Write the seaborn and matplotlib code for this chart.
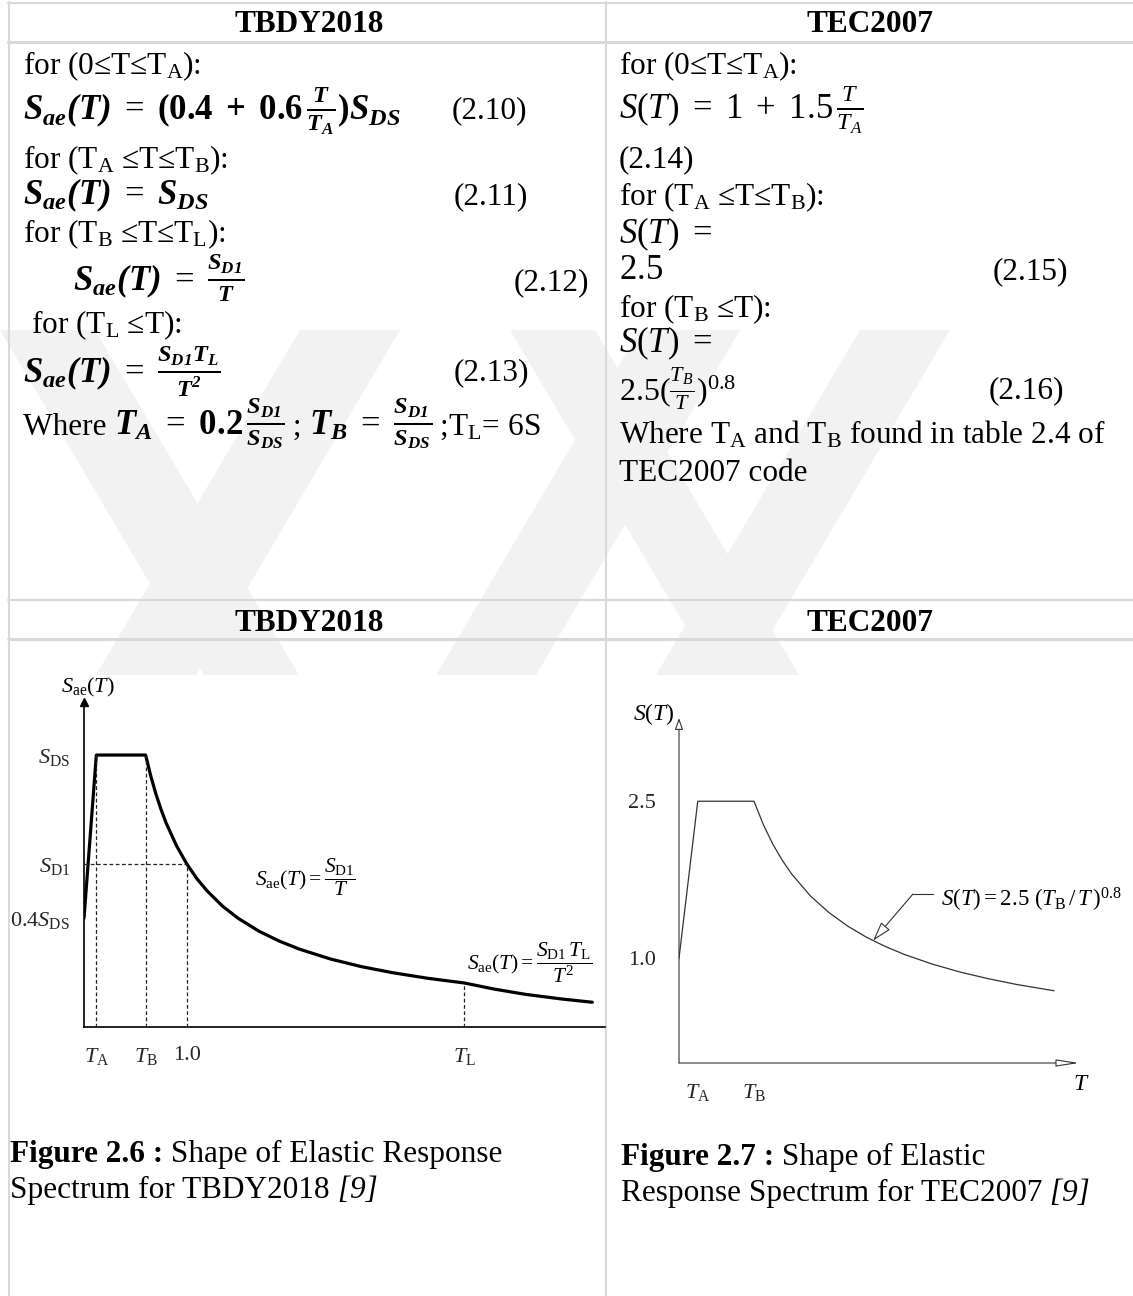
import matplotlib
matplotlib.use('Agg')
import matplotlib.pyplot as plt
from matplotlib.patches import Polygon
import seaborn as sns
import pandas as pd

# TBDY2018 spectrum (S_DS = 1)
tbdy_T = [0.0, 0.12, 0.6, 0.65, 0.7, 0.75, 0.8, 0.9, 1.0, 1.1, 1.2, 1.35, 1.5, 1.7,
          1.9, 2.1, 2.4, 2.7, 3.0, 3.35, 3.7, 4.0, 4.3, 4.65, 4.95]
tbdy_S = [0.4, 1.0, 1.0, 0.923, 0.857, 0.8, 0.75, 0.667, 0.6, 0.545, 0.5, 0.444, 0.4, 0.353,
          0.316, 0.286, 0.25, 0.222, 0.2, 0.179, 0.162, 0.139, 0.12, 0.103, 0.091]
tbdy_xticks = [0.12, 0.6, 1.0, 3.7]
tbdy_xlabels = [r'$T_{\mathrm{A}}$', r'$T_{\mathrm{B}}$', '1.0', r'$T_{\mathrm{L}}$']
tbdy_guide_top = [1.0, 1.0, 0.6, 0.162]
tbdy_yticks = [0.4, 0.6, 1.0]
tbdy_ylabels = [r'$0.4S_{\mathrm{DS}}$', r'$S_{\mathrm{D1}}$', r'$S_{\mathrm{DS}}$']

# TEC2007 spectrum
tec_T = [0.0, 0.1, 0.4, 0.45, 0.5, 0.55, 0.6, 0.7, 0.8, 0.9, 1.0, 1.1, 1.2, 1.35,
         1.5, 1.65, 1.8, 2.0]
tec_S = [1.0, 2.5, 2.5, 2.275, 2.091, 1.938, 1.807, 1.597, 1.436, 1.307, 1.201, 1.113,
         1.038, 0.945, 0.868, 0.805, 0.750, 0.690]
tec_xticks = [0.1, 0.4]
tec_xlabels = [r'$T_{\mathrm{A}}$', r'$T_{\mathrm{B}}$']
tec_yticks = [1.0, 2.5]
tec_ylabels = ['1.0', '2.5']
tec_note_T, tec_note_S = 1.035, 1.169

sns.set_style('white')
plt.rcParams['font.family'] = ['Liberation Serif', 'DejaVu Serif']
plt.rcParams['mathtext.fontset'] = 'custom'
plt.rcParams['mathtext.rm'] = 'Liberation Serif'
plt.rcParams['mathtext.it'] = 'Liberation Serif:italic'
plt.rcParams['mathtext.bf'] = 'Liberation Serif:bold'
plt.rcParams['mathtext.bfit'] = 'Liberation Serif:bold:italic'

W, H = 1133, 1296
fig = plt.figure(figsize=(W / 100, H / 100), dpi=100)
fig.patch.set_facecolor('white')
renderer = fig.canvas.get_renderer()

# background layer: watermark + table grid (pixel coords)
bg = fig.add_axes([0, 0, 1, 1], zorder=0)
bg.set_xlim(0, W)
bg.set_ylim(H, 0)
bg.axis('off')

wm = '#f2f2f2'
y_top, y_bot, shift = 330, 675, 204
bands = [(0, 95, 1), (300, 400, -1), (640, 740, -1), (510, 595, 1), (860, 950, -1)]
for x0, x1, d in bands:
    bg.add_patch(Polygon([(x0, y_top), (x1, y_top), (x1 + d * shift, y_bot),
                          (x0 + d * shift, y_bot)], closed=True, fc=wm, ec='none'))

grid = '#d9d9d9'
bg.plot([8, W], [2.5, 2.5], color=grid, lw=1.5)
bg.plot([8, W], [41.5, 41.5], color=grid, lw=2.2)
bg.plot([8, W], [599.5, 599.5], color=grid, lw=1.5)
bg.plot([8, W], [638.5, 638.5], color=grid, lw=2.2)
bg.plot([8.5, 8.5], [2, H], color=grid, lw=1.5)
bg.plot([606, 606], [2, H], color=grid, lw=1.5)


def put(x, y, s, size=22.5, **kw):
    kw.setdefault('va', 'baseline')
    return fig.text(x / W, 1 - y / H, s, fontsize=size, color='black', **kw)


def put_runs(x, y, runs):
    # runs: (text, size, extra kwargs) placed one after another
    for s, size, kw in runs:
        t = put(x, y, s, size=size, **kw)
        x += t.get_window_extent(renderer).width


EQ = 25

# headers
for y in (32, 631):
    put(309, y, 'TBDY2018', weight='bold', ha='center')
    put(870, y, 'TEC2007', weight='bold', ha='center')

# left column text
put(23, 74, 'for (0≤T≤T$_{\\mathrm{A}}$):')
put(23, 121, r'$\mathbfit{S_{ae}(T)}\ =\ \mathbf{(0.4\ +\ 0.6}\,\frac{\mathbfit{T}}{\mathbfit{T_A}}'
             r'\mathbf{)}\mathbfit{S_{DS}}$', size=EQ)
put(452, 118, '(2.10)')
put(23, 168, 'for (T$_{\\mathrm{A}}$ ≤T≤T$_{\\mathrm{B}}$):')
put(23, 204, r'$\mathbfit{S_{ae}(T)}\ =\ \mathbfit{S_{DS}}$', size=EQ)
put(454, 204, '(2.11)')
put(23, 242, 'for (T$_{\\mathrm{B}}$ ≤T≤T$_{\\mathrm{L}}$):')
put(73, 292, r'$\mathbfit{S_{ae}(T)}\ =\ \frac{\mathbfit{S_{D1}}}{\mathbfit{T}}$', size=EQ)
put(514, 290, '(2.12)')
put(31, 333, 'for (T$_{\\mathrm{L}}$ ≤T):')
put(23, 383, r'$\mathbfit{S_{ae}(T)}\ =\ \frac{\mathbfit{S_{D1}T_L}}{\mathbfit{T^2}}$', size=EQ)
put(454, 380, '(2.13)')
put_runs(23, 435, [
    ('Where ', 22.5, {}),
    (r'$\mathbfit{T_A}\ =\ \mathbf{0.2}\,\frac{\mathbfit{S_{D1}}}{\mathbfit{S_{DS}}}$', EQ, {}),
    (' ; ', 22.5, {}),
    (r'$\mathbfit{T_B}\ =\ \frac{\mathbfit{S_{D1}}}{\mathbfit{S_{DS}}}$', EQ, {}),
    (' ;T$_{\\mathrm{L}}$= 6S', 22.5, {}),
])

# right column text
put(619, 74, 'for (0≤T≤T$_{\\mathrm{A}}$):')
put(619, 120, r'$S(T)\ =\ 1\ +\ 1.5\,\frac{T}{T_A}$', size=EQ)
put(619, 167, '(2.14)')
put(619, 205, 'for (T$_{\\mathrm{A}}$ ≤T≤T$_{\\mathrm{B}}$):')
put(619, 243, r'$S(T)\ =$', size=EQ)
put(619, 279, r'$2.5$', size=EQ)
put(993, 279, '(2.15)')
put(619, 317, 'for (T$_{\\mathrm{B}}$ ≤T):')
put(619, 352, r'$S(T)\ =$', size=EQ)
put(619, 401, r'$2.5(\frac{T_B}{T})^{0.8}$', size=23)
put(989, 398, '(2.16)')
put(619, 443, 'Where T$_{\\mathrm{A}}$ and T$_{\\mathrm{B}}$ found in table 2.4 of')
put(619, 481, 'TEC2007 code')

# captions
put_runs(10, 1162, [('Figure 2.6 :', 22.5, {'weight': 'bold'}),
                    (' Shape of Elastic Response', 22.5, {})])
put_runs(10, 1198, [('Spectrum for TBDY2018', 22.5, {}),
                    (' [9]', 22.5, {'style': 'italic'})])
put_runs(621, 1165, [('Figure 2.7 :', 22.5, {'weight': 'bold'}),
                     (' Shape of Elastic', 22.5, {})])
put_runs(621, 1201, [('Response Spectrum for TEC2007', 22.5, {}),
                     (' [9]', 22.5, {'style': 'italic'})])

# ---- left plot: TBDY2018 ----
ax1 = fig.add_axes([84 / W, 1 - 1027 / H, (605 - 84) / W, (1027 - 702) / H], zorder=2)
ax1.patch.set_alpha(0)
df1 = pd.DataFrame({'T': tbdy_T, 'S': tbdy_S})
sns.lineplot(data=df1, x='T', y='S', ax=ax1, color='black', lw=2.3,
             sort=False, estimator=None)
ax1.set_xlim(0, 5.073)
ax1.set_ylim(0, 1.195)
ax1.vlines(tbdy_xticks, 0, tbdy_guide_top, colors='#222222', lw=0.9, linestyles=(0, (3, 2)))
ax1.hlines(tbdy_yticks[1], 0, tbdy_xticks[2], colors='#222222', lw=0.9, linestyles=(0, (3, 2)))
for s in ('top', 'right'):
    ax1.spines[s].set_visible(False)
for s in ('left', 'bottom'):
    ax1.spines[s].set_linewidth(1.2)
    ax1.spines[s].set_color('black')
ax1.set_xticks(tbdy_xticks, tbdy_xlabels)
ax1.set_yticks(tbdy_yticks, tbdy_ylabels)
ax1.tick_params(axis='x', direction='out', length=5, width=1.1, pad=9, labelsize=16)
ax1.tick_params(axis='y', direction='out', length=6, width=1.1, pad=4, labelsize=16)
ax1.set_xlabel('')
ax1.set_ylabel('')
ax1.plot([0], [1.195], marker='^', ms=6, color='black', clip_on=False)
put(61, 692, r'$S_{\mathrm{ae}}(T)$', size=16)
put(255, 877, r'$S_{\mathrm{ae}}(T) = \dfrac{S_{\mathrm{D1}}}{T}$', size=15.5, va='center')
put(467, 963, r'$S_{\mathrm{ae}}(T) = \dfrac{S_{\mathrm{D1}}\,T_{\mathrm{L}}}{T^2}$', size=15.5, va='center')

# ---- right plot: TEC2007 ----
ax2 = fig.add_axes([679 / W, 1 - 1063 / H, 400 / W, 345 / H], zorder=2)
ax2.patch.set_alpha(0)
df2 = pd.DataFrame({'T': tec_T, 'S': tec_S})
sns.lineplot(data=df2, x='T', y='S', ax=ax2, color='#333333', lw=0.9,
             sort=False, estimator=None)
xmax2, ymax2 = 2.133, 3.295
ax2.set_xlim(0, xmax2)
ax2.set_ylim(0, ymax2)
for s in ax2.spines.values():
    s.set_visible(False)
ax2.set_xticks(tec_xticks, tec_xlabels)
ax2.set_yticks(tec_yticks, tec_ylabels)
ax2.tick_params(axis='x', direction='out', length=10, width=0.8, color='#333333', pad=4, labelsize=16)
ax2.tick_params(axis='y', direction='out', length=11.5, width=0.8, color='#333333', pad=5, labelsize=16)
ax2.set_xlabel('')
ax2.set_ylabel('')
ax2.annotate('', xy=(xmax2, 0), xytext=(0, 0), annotation_clip=False,
             arrowprops=dict(arrowstyle='-|>,head_length=1.4,head_width=0.22', fc='white',
                             ec='#333333', lw=0.8, shrinkA=0, shrinkB=0, mutation_scale=10))
ax2.annotate('', xy=(0, ymax2), xytext=(0, 0), annotation_clip=False,
             arrowprops=dict(arrowstyle='-|>,head_length=0.7,head_width=0.25', fc='white',
                             ec='#333333', lw=0.8, shrinkA=0, shrinkB=0, mutation_scale=10))
ax2.annotate('', xy=(tec_note_T, tec_note_S), xytext=(913, H - 894), textcoords='figure pixels',
             arrowprops=dict(arrowstyle='-|>,head_length=1.0,head_width=0.3', fc='white',
                             ec='#333333', lw=0.8, shrinkA=0, shrinkB=0, mutation_scale=12))
bg.plot([913, 933], [894, 894], color='#333333', lw=0.8)
put(941, 900, r'$S(T) = 2.5\ (T_{\mathrm{B}}\,/\,T\,)^{0.8}$', size=16.5, va='center')
put(633, 720, r'$S(T)$', size=17)
put(1073, 1090, r'$T$', size=17)

plt.savefig('out.png', dpi=100)
